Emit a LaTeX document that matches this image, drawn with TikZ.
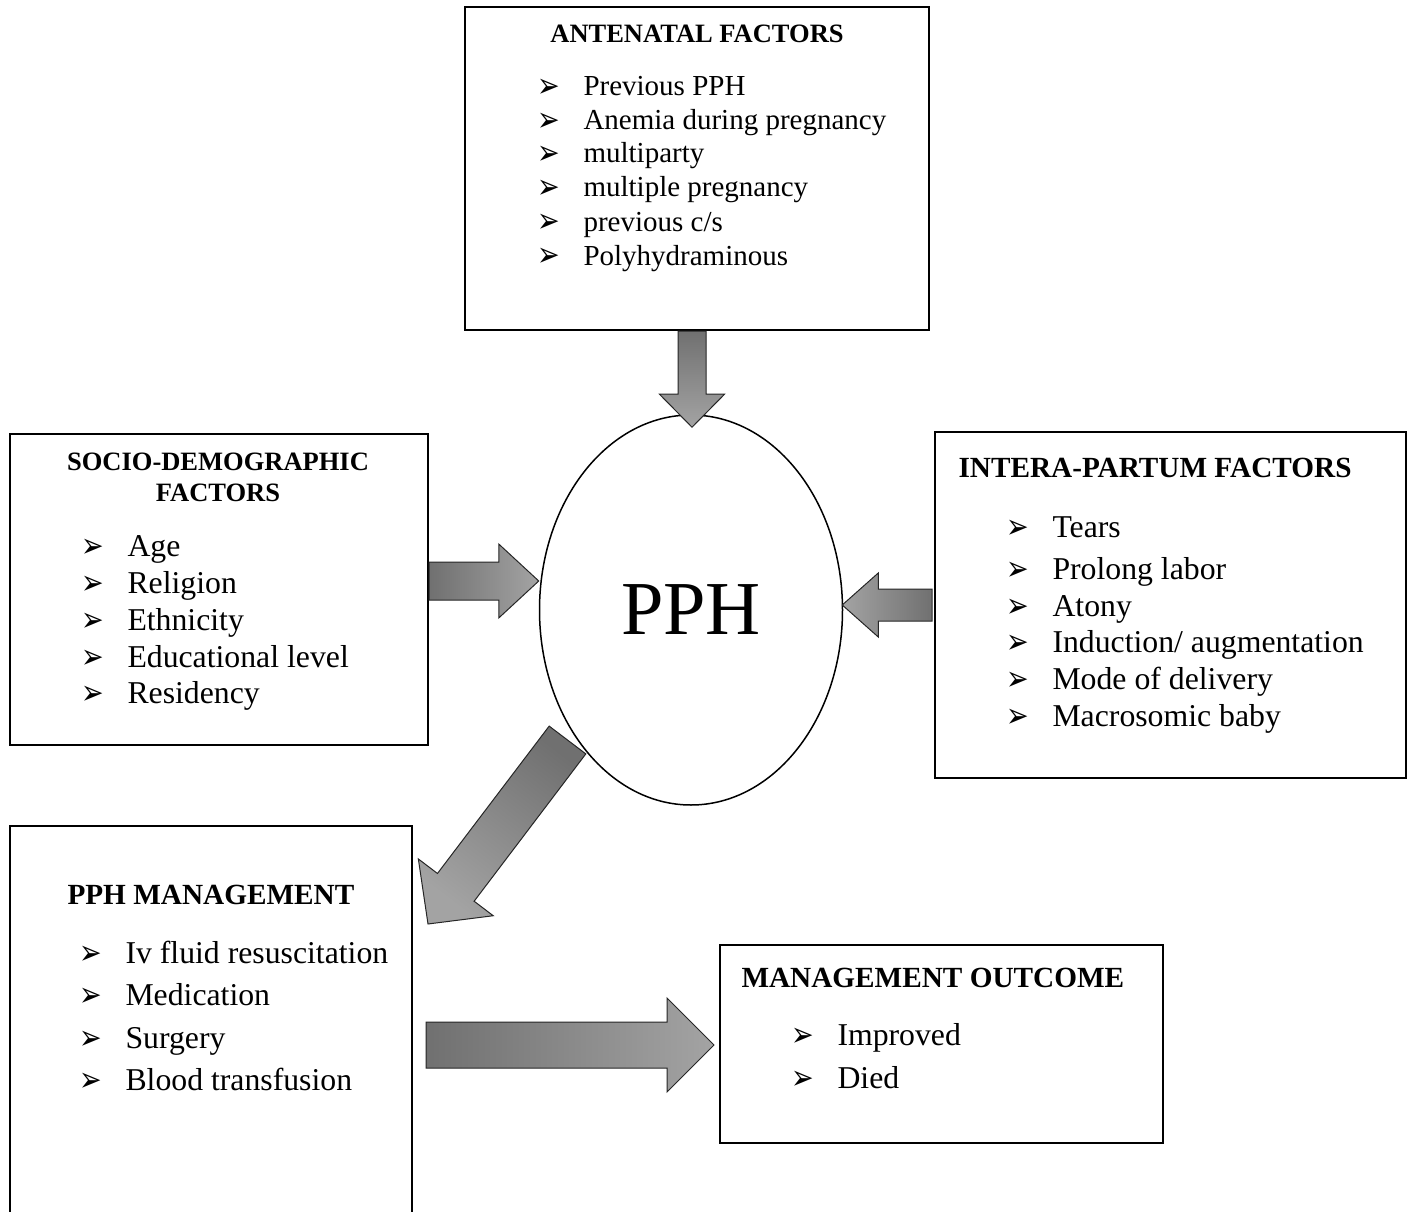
\documentclass[tikz,border=0pt]{standalone}
\usepackage{fontspec}
\setmainfont{Liberation Serif}
\newfontfamily\dingfont{DejaVu Sans}
\usepackage{tikz}
\usetikzlibrary{calc,positioning,shapes.geometric}

% bullet of the lists
\newcommand{\bul}{\makebox[18.4pt][l]{\raisebox{-0.6pt}[0pt][0pt]{\scalebox{0.72}[0.92]{\dingfont\fontsize{15}{15}\selectfont ➢}}}}

% block arrow: [options] tail, tip, half shaft, half head, head length
\newcommand{\fatarrow}[6][]{%
  \coordinate (hb) at ($(#3)!#6!(#2)$);
  \draw[fat,#1] ($(#2)!#4!90:(#3)$) -- ($(hb)!#4!90:(#3)$) -- ($(hb)!#5!90:(#3)$) -- (#3)
    -- ($(hb)!#5!-90:(#3)$) -- ($(hb)!#4!-90:(#3)$) -- ($(#2)!#4!-90:(#3)$) -- cycle;}

\tikzset{
  fat/.style={draw=black!85,line width=0.4pt,top color=black!36,bottom color=black!56},
}

\begin{document}
\begin{tikzpicture}[x=0.4pt,y=-0.4pt,
  box/.style={draw,line width=0.8pt,inner sep=0pt},
  ttl/.style={font=\bfseries\fontsize{11.7}{14}\selectfont,inner sep=0pt},
  ttlsmall/.style={font=\bfseries\fontsize{10.6}{13}\selectfont,inner sep=0pt},
  item/.style={anchor=base west,inner sep=0pt,font=\fontsize{12.7}{15}\selectfont},
  itemsmall/.style={anchor=base west,inner sep=0pt,font=\fontsize{11.6}{14}\selectfont}]

\useasboundingbox (0,0) rectangle (1408,1212);

% antenatal factors
\node[box,minimum width=185.6pt,minimum height=129.2pt] (ante) at (697,168.5) {};
\node[ttlsmall,anchor=base] (anteT) at (697,43) {ANTENATAL FACTORS};
\draw (537,96) node[itemsmall] (ante1) {\bul Previous PPH}
      (537,130) node[itemsmall] (ante2) {\bul Anemia during pregnancy}
      (537,163) node[itemsmall] (ante3) {\bul multiparty}
      (537,197) node[itemsmall] (ante4) {\bul multiple pregnancy}
      (537,231) node[itemsmall] (ante5) {\bul previous c/s}
      (537,265) node[itemsmall] (ante6) {\bul Polyhydraminous};

% socio-demographic factors
\node[box,minimum width=167.2pt,minimum height=124.4pt] (socio) at (219,589.5) {};
\node[ttlsmall,anchor=base] (socioT) at (218,470) {SOCIO-DEMOGRAPHIC};
\node[ttlsmall,anchor=base] (socioT2) at (218,501) {FACTORS};
\draw (81,556) node[item] (socio1) {\bul Age}
      (81,593) node[item] (socio2) {\bul Religion}
      (81,630) node[item] (socio3) {\bul Ethnicity}
      (81,667) node[item] (socio4) {\bul Educational level}
      (81,703) node[item] (socio5) {\bul Residency};

% intera-partum factors
\node[box,minimum width=188.4pt,minimum height=138.4pt] (intra) at (1170.5,605) {};
\node[ttl,anchor=base west] (intraT) at (958,477) {INTERA-PARTUM FACTORS};
\draw (1006,537) node[item] (intra1) {\bul Tears}
      (1006,579) node[item] (intra2) {\bul Prolong labor}
      (1006,616) node[item] (intra3) {\bul Atony}
      (1006,652) node[item] (intra4) {\bul Induction/ augmentation}
      (1006,689) node[item] (intra5) {\bul Mode of delivery}
      (1006,726) node[item] (intra6) {\bul Macrosomic baby};

% PPH
\node[draw,ellipse,line width=0.6pt,minimum width=121.2pt,minimum height=156pt,inner sep=0pt,
      font=\fontsize{30.5}{30.5}\selectfont] (pph) at (691,610) {PPH};

% PPH management
\node[box,minimum width=160.8pt,minimum height=161.6pt] (mgmt) at (211,1028) {};
\node[ttl,anchor=base west] (mgmtT) at (67,904) {PPH MANAGEMENT};
\draw (79,963) node[item] (mgmt1) {\bul Iv fluid resuscitation}
      (79,1005) node[item] (mgmt2) {\bul Medication}
      (79,1048) node[item] (mgmt3) {\bul Surgery}
      (79,1090) node[item] (mgmt4) {\bul Blood transfusion};

% management outcome
\node[box,minimum width=177.2pt,minimum height=79.2pt] (outc) at (941.5,1044) {};
\node[ttl,anchor=base west] (outcT) at (741,987) {MANAGEMENT OUTCOME};
\draw (791,1045) node[item] (outc1) {\bul Improved}
      (791,1088) node[item] (outc2) {\bul Died};

% arrow ends
\coordinate (anteTail) at ($(ante.south)+(-5,0)$);
\coordinate (anteTip) at ($(anteTail |- pph.north)+(0,13)$);
\coordinate (socioTail) at ($(socio.east)+(0,-8.5)$);
\coordinate (socioTip) at ($(pph.west)+(0,-29)$);
\coordinate (intraTail) at ($(intra.west)+(-2,0)$);
\coordinate (intraTip) at ($(pph.east |- intra.west)+(-1,0)$);
\coordinate (pphTail) at ($(pph.center)+(-123.5,130)$);
\coordinate (mgmtTip) at ($(mgmt.north east)+(15,99)$);
\coordinate (mgmtTail) at ($(mgmt.east |- outc.west)+(13,1)$);
\coordinate (outcTip) at ($(outc.west)+(-5,1)$);

% block arrows
\fatarrow[shading angle=180]{anteTail}{anteTip}{5.6pt}{13pt}{13.2pt}
\fatarrow[shading angle=-90]{socioTail}{socioTip}{7.6pt}{14.8pt}{16pt}
\fatarrow[shading angle=90]{intraTail}{intraTip}{6.4pt}{12.8pt}{14.4pt}
\fatarrow[shading angle=142.8]{pphTail}{mgmtTip}{9.2pt}{18.8pt}{18.4pt}
\fatarrow[shading angle=-90]{mgmtTail}{outcTip}{9.2pt}{18.8pt}{18.8pt}

\end{tikzpicture}
\end{document}
